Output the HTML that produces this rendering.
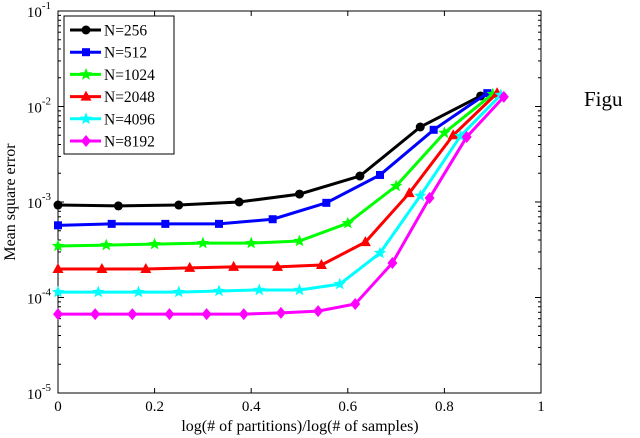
<!DOCTYPE html>
<html><head><meta charset="utf-8"><style>
body{margin:0;background:#fff;width:640px;height:438px;overflow:hidden}
svg{display:block;font-family:"Liberation Serif",serif}
</style></head><body>
<svg id="chart" width="640" height="438">
<rect x="58" y="11" width="483" height="382" fill="#fff" stroke="#000" stroke-width="1"/>
<g id="ticks"></g><g id="series"></g><g id="legend"></g>
<text x="300" y="431" font-size="16" text-anchor="middle">log(# of partitions)/log(# of samples)</text>
<text transform="translate(15,202) rotate(-90)" font-size="16" text-anchor="middle">Mean square error</text>
<text x="584" y="106" font-size="21">Figu</text>
</svg>
<script>
const names=["N=256","N=512","N=1024","N=2048","N=4096","N=8192"];
const colors=["#000","#0000ff","#00ff00","#ff0000","#00ffff","#ff00ff"];
const markers=["circle","square","star","triangle","star","diamond"];
const s256=[9.3e-4,9.1e-4,9.3e-4,1.0e-3,1.21e-3,1.87e-3,6.1e-3,1.29e-2];
const s512=[5.7e-4,5.9e-4,5.9e-4,5.9e-4,6.6e-4,9.8e-4,1.92e-3,5.7e-3,1.38e-2];
const s1024=[3.46e-4,3.54e-4,3.62e-4,3.71e-4,3.71e-4,3.9e-4,6.0e-4,1.47e-3,5.3e-3,1.35e-2];
const s2048=[1.99e-4,1.99e-4,1.99e-4,2.04e-4,2.09e-4,2.09e-4,2.19e-4,3.8e-4,1.24e-3,5.0e-3,1.38e-2];
const s4096=[1.14e-4,1.14e-4,1.14e-4,1.14e-4,1.17e-4,1.2e-4,1.2e-4,1.38e-4,2.92e-4,1.16e-3,4.9e-3,1.32e-2];
const s8192=[6.7e-5,6.7e-5,6.7e-5,6.7e-5,6.7e-5,6.7e-5,6.9e-5,7.2e-5,8.55e-5,2.3e-4,1.1e-3,4.8e-3,1.26e-2];
const logN=[8,9,10,11,12,13];
const xTicks=[0,0.2,0.4,0.6,0.8,1];
const yExps=[-1,-2,-3,-4,-5];
const series=[s256,s512,s1024,s2048,s4096,s8192];
const NS="http://www.w3.org/2000/svg";
const X0=58,X1=541,YT=11,YB=393;
const xs=v=>X0+v*(X1-X0);
const ys=v=>YT+(-1-Math.log10(v))*(YB-YT)/4;
function el(t,a,p){const e=document.createElementNS(NS,t);for(const k in a)e.setAttribute(k,a[k]);p.appendChild(e);return e;}
const tk=document.getElementById('ticks');
xTicks.forEach(t=>{const x=xs(t);
 el('line',{x1:x,x2:x,y1:YB,y2:YB-5,stroke:'#000'},tk);
 el('line',{x1:x,x2:x,y1:YT,y2:YT+5,stroke:'#000'},tk);
 const lb=el('text',{x:x,y:411,'font-size':15,'text-anchor':'middle'},tk);lb.textContent=t;
 
 
});
yExps.forEach(e=>{const y=ys(Math.pow(10,e));
 el('line',{x1:X0,x2:X0+6,y1:y,y2:y,stroke:'#000'},tk);
 el('line',{x1:X1,x2:X1-6,y1:y,y2:y,stroke:'#000'},tk);
 const lb=el('text',{x:51,y:y+6,'font-size':15,'text-anchor':'end'},tk);
 
 
 const b=el('tspan',{},lb);b.textContent='10';
 const s=el('tspan',{dy:-8,'font-size':11},lb);s.textContent=e;
 if(e>-1)return;});
yExps.slice(1).forEach(e=>{for(let m=2;m<10;m++){const y=ys(m*Math.pow(10,e));
 el('line',{x1:X0,x2:X0+3,y1:y,y2:y,stroke:'#000'},tk);
 el('line',{x1:X1,x2:X1-3,y1:y,y2:y,stroke:'#000'},tk);}});
function marker(type,x,y,c,g){
 if(type==='circle')return el('circle',{cx:x,cy:y,r:4.5,fill:c},g);
 if(type==='square')return el('rect',{x:x-4,y:y-4,width:8,height:8,fill:c},g);
 if(type==='triangle')return el('polygon',{points:`${x},${y-6} ${x+5.5},${y+4} ${x-5.5},${y+4}`,fill:c},g);
 if(type==='diamond')return el('polygon',{points:`${x},${y-6} ${x+5},${y} ${x},${y+6} ${x-5},${y}`,fill:c},g);
 let p=[];for(let i=0;i<10;i++){const r=i%2?2.8:6.5,a=-Math.PI/2+i*Math.PI/5;p.push((x+r*Math.cos(a)).toFixed(1)+','+(y+r*Math.sin(a)).toFixed(1));}
 return el('polygon',{points:p.join(' '),fill:c},g);
}
const sg=document.getElementById('series');
series.forEach((d,k)=>{
 const g=el('g',{},sg);
 
 
 const pts=d.map((v,i)=>xs(i/logN[k])+','+ys(v)).join(' ');
 el('polyline',{points:pts,fill:'none',stroke:colors[k],'stroke-width':3},g);
 d.forEach((v,i)=>marker(markers[k],xs(i/logN[k]),ys(v),colors[k],g));
});
const lg=document.getElementById('legend');
const box=el('rect',{x:64,y:16,width:110,height:138,fill:'#fff',stroke:'#000'},lg);


names.forEach((n,k)=>{const y=30+k*22.2;
 const g=el('g',{},lg);
 
 
 el('line',{x1:70,x2:101,y1:y,y2:y,stroke:colors[k],'stroke-width':3},g);
 marker(markers[k],86,y,colors[k],g);
 const t=el('text',{x:104,y:y+5.5,'font-size':15.5},g);t.textContent=n;
});
</script>
</body></html>
